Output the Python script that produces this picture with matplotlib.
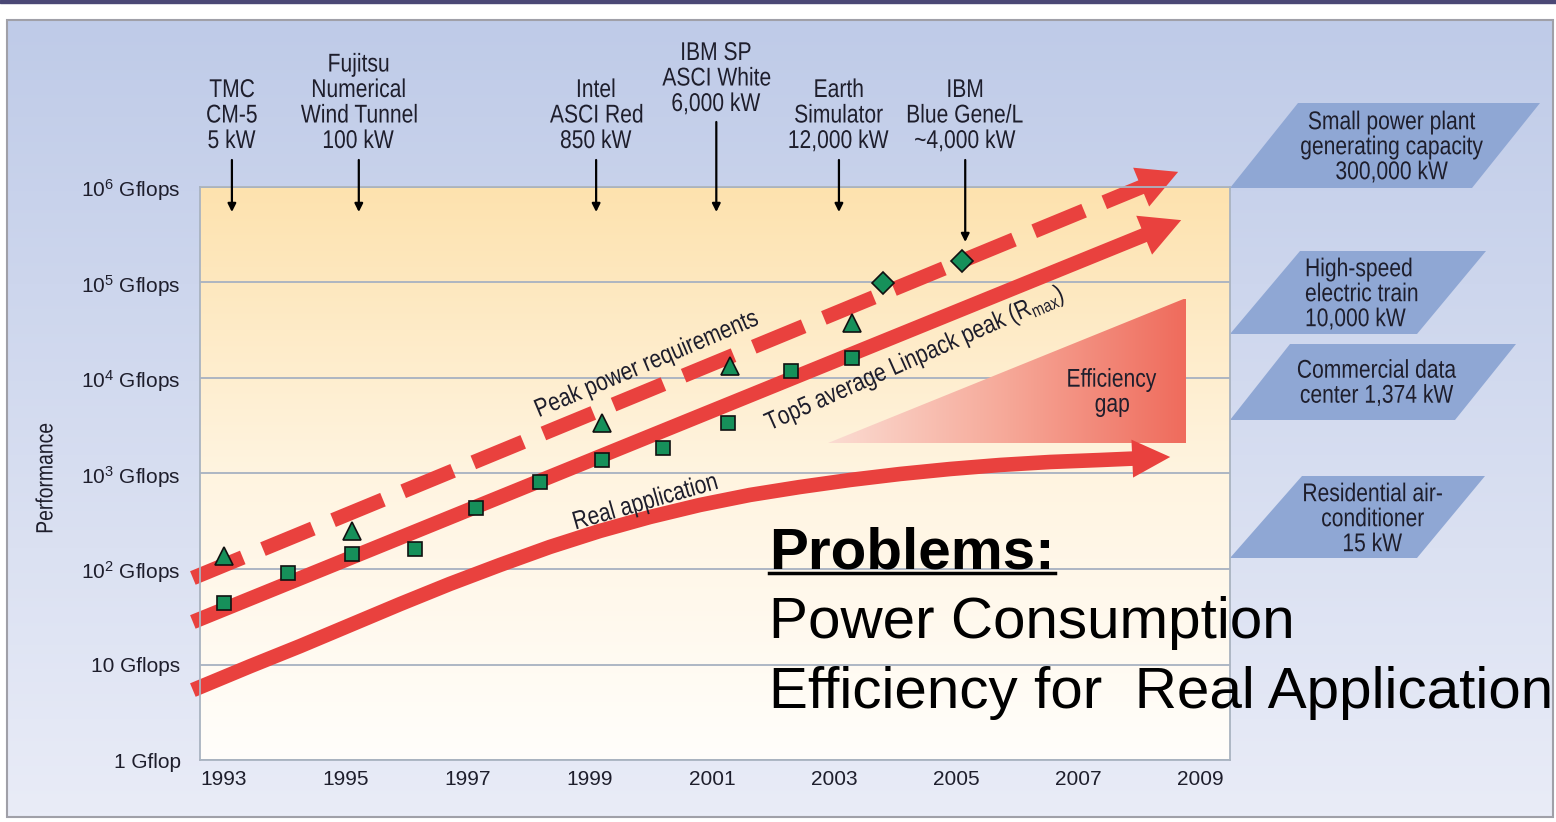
import matplotlib
matplotlib.use('Agg')
import matplotlib.pyplot as plt
import numpy as np
import matplotlib.transforms as mtransforms
from matplotlib.patches import Polygon, Rectangle, PathPatch
from matplotlib.lines import Line2D
from matplotlib.path import Path
from matplotlib.textpath import TextPath
from matplotlib.font_manager import FontProperties
from matplotlib.colors import LinearSegmentedColormap
from matplotlib.ticker import NullLocator

# --- data ---
years_rmax = [1993.0, 1994.05, 1995.1, 1996.13, 1997.13, 1998.18, 1999.2, 2000.2, 2001.26, 2002.3, 2003.3]
gflops_rmax = [44, 91, 144, 162, 436, 813, 1380, 1860, 3380, 11800, 16200]
years_peak = [1993.0, 1995.1, 1999.2, 2001.3, 2003.3]
gflops_peak = [137, 250, 3380, 13400, 38000]
years_bgl = [2003.8, 2005.1]
gflops_bgl = [98000, 168000]

peak_trend_years = [1992.49, 2008.64]
peak_trend = [80.5, 1.44e6]
rmax_trend_years = [1992.49, 2008.69]
rmax_trend = [27.9, 4.5e5]
real_years = [1992.49, 1993.43, 1994.25, 1995.07, 1995.89, 1996.70, 1997.52, 1998.34, 1999.16, 1999.98,
              2000.80, 2001.62, 2002.44, 2003.26, 2004.08, 2004.90, 2005.72, 2006.54, 2007.36, 2008.51]
real_gflops = [5.4, 9.6, 15.6, 25.9, 43, 69.7, 110, 170, 250, 350,
               468, 596, 722, 855, 988, 1114, 1228, 1320, 1384, 1489]

gap_years = [2002.9, 2008.77, 2008.77]
gap_gflops = [2086, 2086, 68800]

machines = ['TMC\nCM-5\n5 kW', 'Fujitsu\nNumerical\nWind Tunnel\n100 kW', 'Intel\nASCI Red\n850 kW',
            'IBM SP\nASCI White\n6,000 kW', 'Earth\nSimulator\n12,000 kW', 'IBM\nBlue Gene/L\n~4,000 kW']
machine_years = [1993.13, 1995.21, 1999.10, 2001.07, 2003.08, 2005.15]

x_ticks = [1993, 1995, 1997, 1999, 2001, 2003, 2005, 2007, 2009]
y_ticks = [1, 10, 1e2, 1e3, 1e4, 1e5, 1e6]
y_labels = ['1 Gflop', '10 Gflops', r'$\mathregular{10^2}$ Gflops', r'$\mathregular{10^3}$ Gflops',
            r'$\mathregular{10^4}$ Gflops', r'$\mathregular{10^5}$ Gflops', r'$\mathregular{10^6}$ Gflops']

power_refs = ['Small power plant\ngenerating capacity\n300,000 kW', 'High-speed\nelectric train\n10,000 kW',
              'Commercial data\ncenter 1,374 kW', 'Residential air-\nconditioner\n15 kW']

# --- style ---
plt.rcParams['font.family'] = ['Liberation Sans', 'DejaVu Sans']
RED = '#e9413e'
GREEN = '#16905a'
INK = '#1e1e2c'
PX = 100 / 72

fig = plt.figure(figsize=(15.56, 8.22), dpi=100)


def narrow(x, y, s, coords, size=18.5, ha='center', va='center', rot=0, ls=25, squeeze=0.82, z=3):
    """Condensed text (no narrow font installed): squeezed glyph outlines."""
    fp = FontProperties(family='Liberation Sans', size=size)
    lines = s.split('\n')
    n = len(lines)
    ls_pt = ls / PX
    cap = 0.716 * size
    parts = []
    for i, ln in enumerate(lines):
        p = TextPath((0, 0), ln, prop=fp, size=size)
        ext = p.get_extents()
        dx = {'left': 0, 'center': -(ext.x0 + ext.x1) / 2, 'right': -ext.x1}[ha]
        if va == 'center':
            dy = ((n - 1) / 2 - i) * ls_pt - cap / 2
        else:  # baseline of last line at anchor
            dy = (n - 1 - i) * ls_pt
        parts.append(p.transformed(mtransforms.Affine2D().translate(dx, dy)))
    path = Path.make_compound_path(*parts)
    tr = (mtransforms.Affine2D().scale(squeeze * PX, PX).rotate_deg(rot)
          + mtransforms.ScaledTranslation(x, y, coords))
    fig.add_artist(PathPatch(path, transform=tr, fc=INK, ec='none', lw=0, zorder=z))


# background layer in pixel coordinates
bg = fig.add_axes([0, 0, 1, 1], zorder=-1)
bg.axis('off')
panel_cmap = LinearSegmentedColormap.from_list('panel', ['#bfcbe8', '#e9ecf7'])
plot_cmap = LinearSegmentedColormap.from_list('plotbg', ['#fde2ae', '#fff4e0', '#fffefb'])
bg.imshow(np.linspace(0, 1, 256)[:, None], cmap=panel_cmap, extent=[7, 1553, 817, 20],
          aspect='auto', interpolation='bilinear')
bg.imshow(np.linspace(0, 1, 256)[:, None], cmap=plot_cmap, extent=[200, 1230, 760, 187],
          aspect='auto', interpolation='bilinear')
bg.add_patch(Rectangle((7, 20), 1546, 797, fill=False, ec='#a0a0a8', lw=1.5))
bg.add_patch(Rectangle((0, 0), 1556, 3.5, color='#4b4876'))
bg.set_xlim(0, 1556)
bg.set_ylim(822, 0)

boxes = [
    [(1298, 103), (1540, 103), (1472, 188), (1230, 188)],
    [(1300, 251), (1486, 251), (1417, 334), (1230, 334)],
    [(1290, 344), (1516, 344), (1455, 420), (1230, 420)],
    [(1302, 476), (1485, 476), (1417, 558), (1230, 558)],
]
box_text = [(1392, 145, 'center'), (1305, 292, 'left'), (1377, 381, 'center'), (1373, 517, 'center')]
for pts, (tx, ty, ha), label in zip(boxes, box_text, power_refs):
    bg.add_patch(Polygon(pts, closed=True, fc='#8fa7d4', ec='none'))
    narrow(tx, ty, label, bg.transData, ha=ha)
narrow(44, 478, 'Performance', bg.transData, size=17, rot=90)

# main chart
ax = fig.add_axes([200 / 1556, 62 / 822, 1030 / 1556, 573 / 822])
ax.set_facecolor('none')
ax.set_yscale('log')
ax.yaxis.set_minor_locator(NullLocator())

tri = Polygon(np.column_stack([gap_years, gap_gflops]), closed=True, fc='none', ec='none')
ax.add_patch(tri)
gap_cmap = LinearSegmentedColormap.from_list('gap', ['#fbdcd2', '#f6a898', '#ef6b5c'])
im = ax.imshow(np.linspace(0, 1, 256)[None, :], cmap=gap_cmap, aspect='auto', zorder=1.5,
               extent=[min(gap_years), max(gap_years), min(gap_gflops), max(gap_gflops)])
im.set_clip_path(tri)

ax.set_xlim(1992.607, 2009.49)
ax.set_ylim(1, 1e6)
ax.set_xticks(x_ticks)
ax.set_xticklabels([str(y) for y in x_ticks])
ax.set_yticks(y_ticks)
ax.set_yticklabels(y_labels)
ax.tick_params(length=0, labelsize=15, colors=INK)
ax.tick_params(axis='x', pad=7)
ax.tick_params(axis='y', pad=14)
ax.grid(axis='y', color='#a7b1c1', lw=1.3)
ax.grid(axis='x', visible=False)
ax.set_axisbelow(True)
for s in ax.spines.values():
    s.set_color('#a9b3c0')
    s.set_linewidth(1.3)


def head(xs, ys, length=40, width=42):
    """Draw a triangular head at the last point, return shortened line."""
    tip = ax.transData.transform((xs[-1], ys[-1]))
    prev = ax.transData.transform((xs[-2], ys[-2]))
    d = (tip - prev) / np.hypot(*(tip - prev))
    nrm = np.array([-d[1], d[0]])
    base = tip - d * length
    pts = np.array([tip, base + nrm * width / 2, base - nrm * width / 2])
    ax.add_patch(Polygon(ax.transData.inverted().transform(pts), closed=True, fc=RED, ec='none',
                         zorder=2, clip_on=False))
    bx, by = ax.transData.inverted().transform(base + d * 2)
    return list(xs[:-1]) + [bx], list(ys[:-1]) + [by]


x, y = head(peak_trend_years, peak_trend)
ax.plot(x, y, color=RED, lw=10.5, ls=(0, (3.7, 1.5)), dash_capstyle='butt', zorder=2, clip_on=False)
x, y = head(rmax_trend_years, rmax_trend)
ax.plot(x, y, color=RED, lw=10.5, solid_capstyle='butt', zorder=2, clip_on=False)
x, y = head(real_years, real_gflops, length=38, width=38)
ax.plot(x, y, color=RED, lw=10.5, solid_capstyle='butt', solid_joinstyle='round', zorder=2, clip_on=False)

ax.plot(years_rmax, gflops_rmax, 's', ms=9.5, mfc=GREEN, mec='#111111', mew=1.2, zorder=3)
ax.plot(years_peak, gflops_peak, '^', ms=13, mfc=GREEN, mec='#111111', mew=1.2, zorder=3)
ax.plot(years_bgl, gflops_bgl, 'D', ms=11, mfc=GREEN, mec='#111111', mew=1.2, zorder=3)

narrow(2007.56, 7490, 'Efficiency\ngap', ax.transData)
narrow(1999.92, 14700, 'Peak power requirements', ax.transData, rot=22.9)
narrow(2004.30, 16600, r'Top5 average Linpack peak (R$_\mathregular{max}$)', ax.transData, rot=23.9)
narrow(1999.90, 527, 'Real application', ax.transData, rot=16)


# machine labels above the chart
def frac(py):
    return (760 - py) / 573


xt = ax.get_xaxis_transform()
starts = [160, 160, 160, 122, 160, 160]
tips = [212, 212, 212, 212, 212, 242]
baselines = [148, 148, 148, 111, 148, 148]
for yr, label, s0, t0, b0 in zip(machine_years, machines, starts, tips, baselines):
    ax.annotate('', xy=(yr, frac(t0)), xytext=(yr, frac(s0)), xycoords=xt, textcoords=xt,
                arrowprops=dict(arrowstyle='-|>', color='black', lw=1.6, mutation_scale=12,
                                shrinkA=0, shrinkB=0), annotation_clip=False)
    narrow(yr, frac(b0), label, xt, va='baseline', ls=25.5)

# overlay text
fig.text(769, 568, 'Problems:', transform=bg.transData, fontsize=42, fontweight='bold', va='baseline', color='black')
fig.add_artist(Line2D([769, 1055], [573, 573], transform=bg.transData, color='black', lw=2.5))
fig.text(769, 638, 'Power Consumption', transform=bg.transData, fontsize=42, va='baseline', color='black')
fig.text(769, 708, 'Efficiency for  Real Application', transform=bg.transData, fontsize=42,
         va='baseline', color='black')

fig.savefig('out.png', dpi=100)
